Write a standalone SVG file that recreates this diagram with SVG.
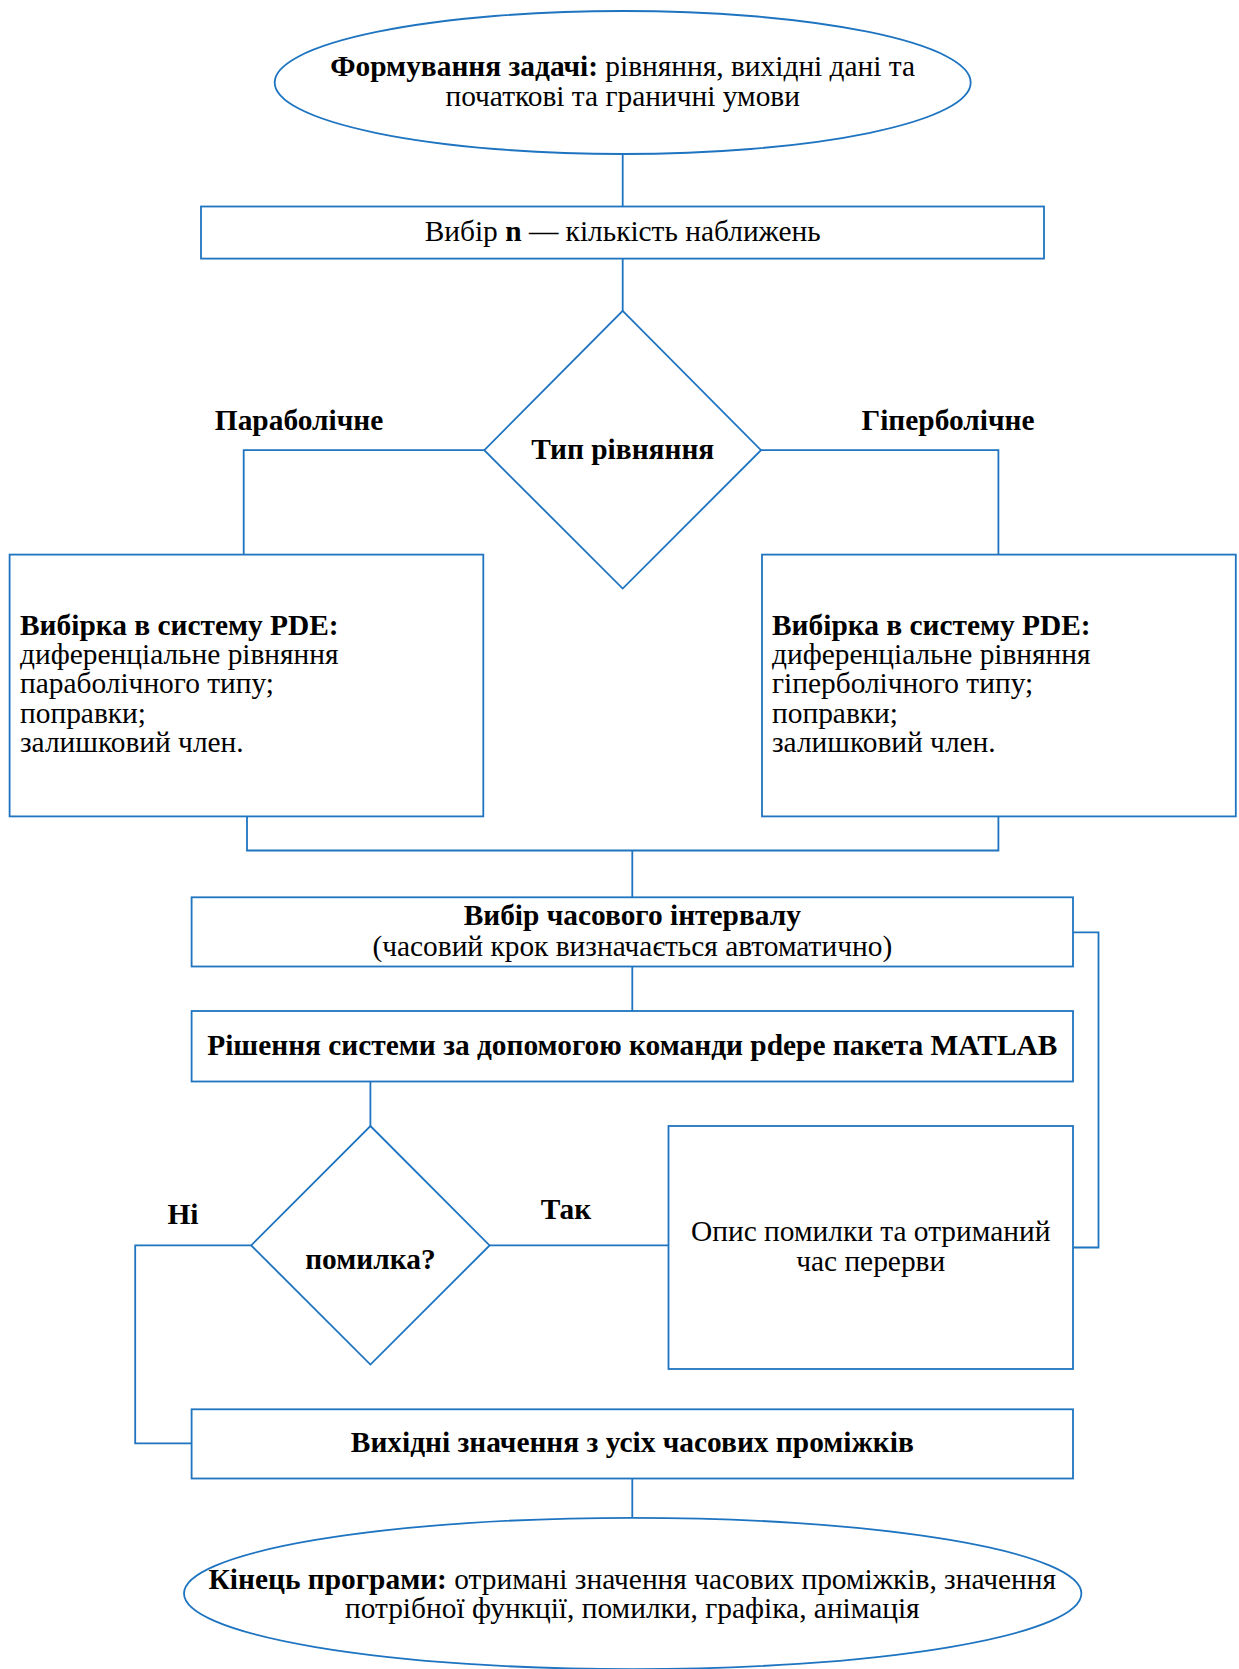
<svg xmlns="http://www.w3.org/2000/svg" width="1239" height="1669" viewBox="0 0 1239 1669">
  <style>
    .shape { fill: #ffffff; stroke: #1E74C0; stroke-width: 1.8; }
    .conn { fill: none; stroke: #1E74C0; stroke-width: 1.8; }
    text { font-family: "Liberation Serif", "Times New Roman", serif; font-size: 29.4px; fill: #000000; }
    .c { text-anchor: middle; }
    .b { font-weight: bold; }
  </style>
  <rect width="1239" height="1669" fill="#ffffff"/>

  <!-- connectors -->
  <g id="connectors">
    <path class="conn" d="M622.7,154 V206.5"/>
    <path class="conn" d="M622.7,258.6 V311"/>
    <path class="conn" d="M484.3,450.2 H243.7 V554.6"/>
    <path class="conn" d="M761,450.2 H998.4 V554.6"/>
    <path class="conn" d="M247,816.4 V850.5 H998.4 V816.4"/>
    <path class="conn" d="M632.3,850.5 V897.3"/>
    <path class="conn" d="M632.3,966.5 V1011"/>
    <path class="conn" d="M370.4,1081.5 V1126"/>
    <path class="conn" d="M489.6,1245.4 H668.5"/>
    <path class="conn" d="M1073,1247.5 H1098.5 V932.4 H1073"/>
    <path class="conn" d="M251.2,1245.4 H135.2 V1443.4 H191.6"/>
    <path class="conn" d="M632.3,1478.5 V1517.8"/>
  </g>

  <!-- start -->
  <g id="start">
    <ellipse class="shape" cx="622.7" cy="82.5" rx="348" ry="71.5"/>
    <text class="c" x="622.7" y="76"><tspan class="b">Формування задачі:</tspan> рівняння, вихідні дані та</text>
    <text class="c" x="622.7" y="105.5">початкові та граничні умови</text>
  </g>

  <!-- choose n -->
  <g id="choose-n">
    <rect class="shape" x="201" y="206.5" width="843" height="52.1"/>
    <text class="c" x="622.7" y="240.5">Вибір <tspan class="b">n</tspan> — кількість наближень</text>
  </g>

  <!-- equation type -->
  <g id="eq-type">
    <polygon class="shape" points="622.7,310.8 761,450.2 622.7,588.6 484.3,450.2"/>
    <text class="c b" x="622.7" y="458.5">Тип рівняння</text>
  </g>

  <g id="branch-labels">
    <text class="c b" x="299" y="430">Параболічне</text>
    <text class="c b" x="948" y="430">Гіперболічне</text>
  </g>

  <!-- parabolic system -->
  <g id="parabolic">
    <rect class="shape" x="9.6" y="554.6" width="473.7" height="261.8"/>
    <text x="20" y="634.5" class="b">Вибірка в систему PDE:</text>
    <text x="20" y="664">диференціальне рівняння</text>
    <text x="20" y="693">параболічного типу;</text>
    <text x="20" y="722.5">поправки;</text>
    <text x="20" y="752">залишковий член.</text>
  </g>

  <!-- hyperbolic system -->
  <g id="hyperbolic">
    <rect class="shape" x="762" y="554.6" width="473.8" height="261.8"/>
    <text x="772" y="634.5" class="b">Вибірка в систему PDE:</text>
    <text x="772" y="664">диференціальне рівняння</text>
    <text x="772" y="693">гіперболічного типу;</text>
    <text x="772" y="722.5">поправки;</text>
    <text x="772" y="752">залишковий член.</text>
  </g>

  <!-- time interval -->
  <g id="time-interval">
    <rect class="shape" x="191.6" y="897.3" width="881.4" height="69.2"/>
    <text class="c b" x="632.3" y="925">Вибір часового інтервалу</text>
    <text class="c" x="632.3" y="956">(часовий крок визначається автоматично)</text>
  </g>

  <!-- solve -->
  <g id="solve">
    <rect class="shape" x="191.6" y="1011" width="881.4" height="70.5"/>
    <text class="c b" x="632.3" y="1054.5">Рішення системи за допомогою команди pdepe пакета MATLAB</text>
  </g>

  <!-- error check -->
  <g id="error-check">
    <polygon class="shape" points="370.4,1126 489.6,1245.4 370.4,1364.6 251.2,1245.4"/>
    <text class="c b" x="370.4" y="1268.5">помилка?</text>
  </g>

  <g id="decision-labels">
    <text class="c b" x="183" y="1224">Ні</text>
    <text class="c b" x="566" y="1218.5">Так</text>
  </g>

  <!-- error description -->
  <g id="error-desc">
    <rect class="shape" x="668.5" y="1126" width="404.5" height="243"/>
    <text class="c" x="870.7" y="1241">Опис помилки та отриманий</text>
    <text class="c" x="870.7" y="1270.5">час перерви</text>
  </g>

  <!-- output values -->
  <g id="output">
    <rect class="shape" x="191.6" y="1409.3" width="881.4" height="69.2"/>
    <text class="c b" x="632.3" y="1451.5">Вихідні значення з усіх часових проміжків</text>
  </g>

  <!-- end -->
  <g id="end">
    <ellipse class="shape" cx="632.7" cy="1593.5" rx="448.7" ry="75.7"/>
    <text class="c" x="632.3" y="1589"><tspan class="b">Кінець програми:</tspan> отримані значення часових проміжків, значення</text>
    <text class="c" x="632.3" y="1617.5">потрібної функції, помилки, графіка, анімація</text>
  </g>
</svg>
